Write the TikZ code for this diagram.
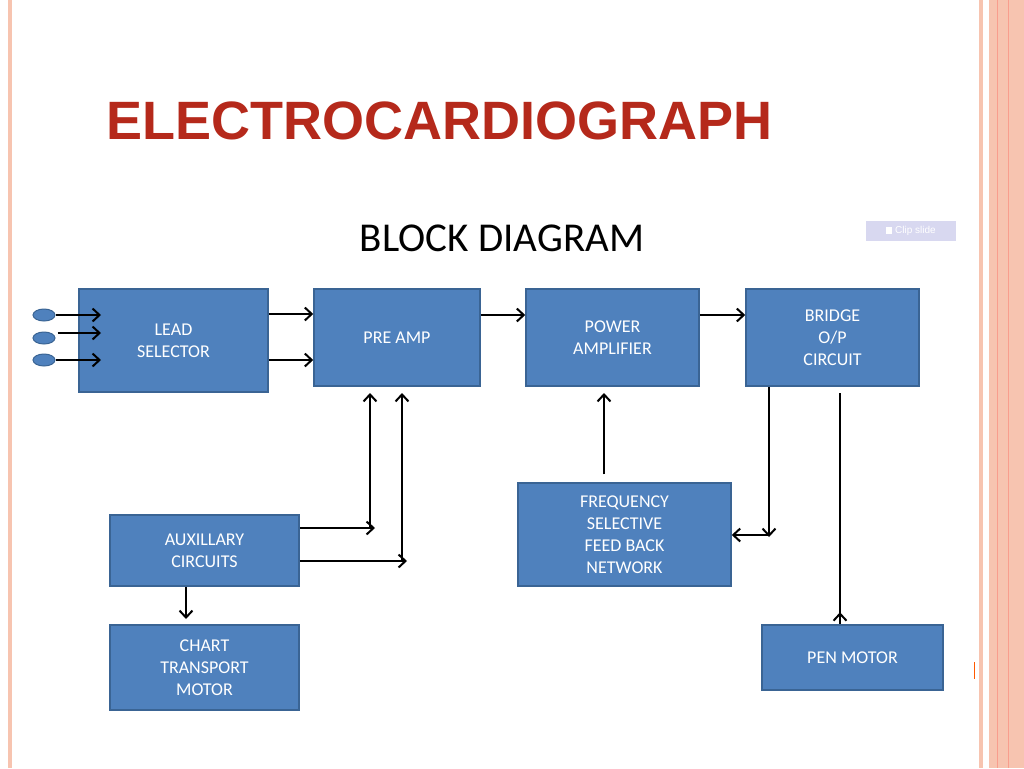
\documentclass[tikz,border=0pt]{standalone}
\usepackage{fontspec}
\setmainfont{Carlito}
\newfontfamily\titlef{Liberation Sans}
\usetikzlibrary{arrows.meta}
\definecolor{boxfill}{HTML}{4F81BD}
\definecolor{boxdraw}{HTML}{3A6494}
\definecolor{salmon}{HTML}{F7C4B0}
\definecolor{titlered}{HTML}{B5291B}
\tikzset{
 blk/.style={draw=boxdraw,line width=1.5pt,fill=boxfill,text=white,align=center,font=\fontsize{18}{22}\selectfont,inner sep=0pt},
 ar/.style={line width=2.2pt,-{Straight Barb[length=7pt,width=13pt,line width=2pt]}},
 ln/.style={line width=2.2pt},
 lead/.style={ellipse,draw=boxdraw,fill=boxfill,minimum width=22pt,minimum height=12pt,inner sep=0pt,line width=1pt}
}
\usetikzlibrary{shapes.geometric}
\begin{document}
\begin{tikzpicture}[x=1pt,y=-1pt]
\useasboundingbox (0,0) rectangle (1024,768);
\fill[white] (0,0) rectangle (1024,768);
% borders
\fill[salmon] (8,0) rectangle (12,768);
\fill[salmon] (979,0) rectangle (983,768);
\fill[salmon] (989,0) rectangle (1024,768);
\draw[salmon!80!red,line width=0.8pt] (997,0) -- (997,768) (1008,0) -- (1008,768);
\fill[orange!70!red] (973.5,662) rectangle (975,679);
% titles
\node[anchor=west,text=titlered,font=\titlef\bfseries\fontsize{54}{60}\selectfont,inner sep=0pt] (title) at (106,121) {ELECTROCARDIOGRAPH};
\node[font=\fontsize{41}{48}\selectfont,inner sep=0pt] (sub) at (502,238) {BLOCK DIAGRAM};
\node[fill=cyan!25!blue!15,text=white,minimum width=90pt,minimum height=20pt,inner sep=0pt,font=\titlef\fontsize{10}{12}\selectfont] (clip) at (911,231) {\rule{6pt}{7pt}\ Clip slide};
% blocks
\node[blk,minimum width=189pt,minimum height=103pt] (lead) at (173.5,340.5) {LEAD\\SELECTOR};
\node[blk,minimum width=166pt,minimum height=97pt] (pre) at (397,337.5) {PRE AMP};
\node[blk,minimum width=173pt,minimum height=97pt] (pow) at (612.5,337.5) {POWER\\AMPLIFIER};
\node[blk,minimum width=173pt,minimum height=97pt] (bri) at (832.5,337.5) {BRIDGE\\O/P\\CIRCUIT};
\node[blk,minimum width=189pt,minimum height=71pt] (aux) at (204.5,550.5) {AUXILLARY\\CIRCUITS};
\node[blk,minimum width=213pt,minimum height=103pt] (frq) at (624.5,534.5) {FREQUENCY\\SELECTIVE\\FEED BACK\\NETWORK};
\node[blk,minimum width=189pt,minimum height=85pt] (cht) at (204.5,667.5) {CHART\\TRANSPORT\\MOTOR};
\node[blk,minimum width=181pt,minimum height=65pt] (pen) at (852.5,657.5) {PEN MOTOR};
% leads
\node[lead] (l1) at (44,315) {};
\node[lead] (l2) at (44,338) {};
\node[lead] (l3) at (44,360) {};
\draw[ar] (l1.east) -- (l1.east -| 101,0);
\draw[ar] (l2.east) ++(2,-5) coordinate (l2s) -- (l2s -| 101,0);
\draw[ar] (l3.east) -- (l3.east -| 101,0);
% top chain
\draw[ar] (lead.east |- 0,314) -- (pre.west |- 0,314);
\draw[ar] (lead.east |- 0,360) -- (pre.west |- 0,360);
\draw[ar] (pre.east |- 0,315) -- (pow.west |- 0,315);
\draw[ar] (pow.east |- 0,315) -- (bri.west |- 0,315);
% aux to pre amp
\coordinate (c1) at (370,528);
\coordinate (c2) at (402,561);
\draw[ar] (aux.east |- c1) -- ([xshift=5pt]c1);
\draw[ar] (aux.east |- c2) -- ([xshift=5pt]c2);
\draw[ar] (c1) -- (370,393);
\draw[ar] (c2) -- (402,393);
% freq up
\draw[ar] (frq.north -| 604,0) ++(0,-8) -- (604,393);
% bridge outputs
\coordinate (c3) at (769,535);
\draw[ar] (bri.south -| c3) -- ([yshift=-2pt]c3);
\draw[ar] (c3) -- (frq.east |- c3);
\draw[ar] (840,393) -- (pen.north -| 840,0) ++(0,-12);
\draw[ar] (aux.south -| 186,0) -- (186,619);
\end{tikzpicture}
\end{document}
